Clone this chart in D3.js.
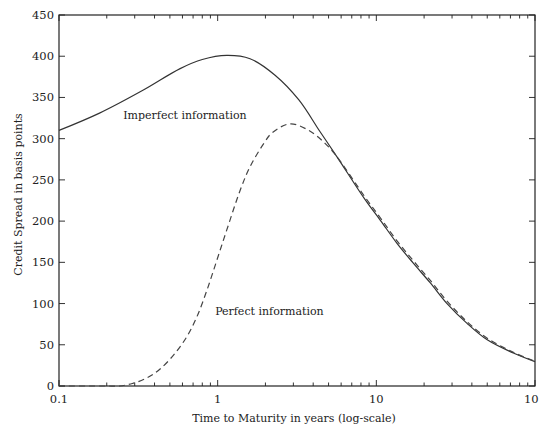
<!DOCTYPE html>
<html>
<head>
<meta charset="utf-8">
<script src="https://cdn.jsdelivr.net/npm/d3@7"></script>
<style>
body { margin: 0; background: #fff; }
svg { display: block; }
</style>
</head>
<body>
<div class="chart"></div>
<script>
// maturities (years) and spreads (bp)
var imperfectT = [0.1, 0.18, 0.34, 0.58, 0.8, 1.14, 1.6, 2.3, 3.25, 4.4, 5.65, 8.5, 10.6, 13.5, 17.1, 21.9, 27.9, 37.3, 50, 73, 100];
var imperfectV = [310, 331, 359, 385, 396, 401, 397, 377, 347, 309, 278, 226, 201, 173, 149, 125, 100, 76, 56, 40, 29.5];

var perfectT = [0.1, 0.2, 0.24, 0.29, 0.36, 0.43, 0.53, 0.64, 0.74, 0.855, 0.99, 1.14, 1.39, 1.6, 1.95, 2.2, 2.87, 3.83, 4.77, 5.5, 8.5, 10.6, 13.5, 17.1, 21.9, 27.9, 37.3, 50, 73, 100];
var perfectV = [0, 0, 0, 3, 10, 20, 38, 60, 84, 116, 153, 189, 238, 266, 294, 307, 318, 309, 294, 281, 229, 204, 176, 152, 128, 103, 78, 58, 41, 30];

var xTicks = [0.1, 1, 10, 100];
var xTickLabels = ["0.1", "1", "10", "100"];
var yTicks = [0, 50, 100, 150, 200, 250, 300, 350, 400, 450];

var labels = [
  {text: "Imperfect information", t: 0.254, v: 324},
  {text: "Perfect information", t: 0.964, v: 86}
];

var margin = {top: 15, right: 4, bottom: 42, left: 59},
    width = 539 - margin.left - margin.right,
    height = 428 - margin.top - margin.bottom;

var svg = d3.select(".chart").append("svg")
    .attr("width", 539)
    .attr("height", 428)
  .append("g")
    .attr("transform", "translate(" + margin.left + "," + margin.top + ")");

var font = "DejaVu Serif";

var x = d3.scaleLog().domain([0.1, 100]).range([0, width]);
var y = d3.scaleLinear().domain([0, 450]).range([height, 0]);

// minor ticks 2..9 of every decade
var minor = [];
[0.1, 1, 10].forEach(function(d) {
  for (var k = 2; k <= 9; k++) minor.push(d * k);
});

var ticks = svg.append("g").attr("stroke", "#333").attr("stroke-width", 1);

minor.forEach(function(d) {
  ticks.append("line").attr("x1", x(d)).attr("x2", x(d)).attr("y1", height).attr("y2", height - 3.5);
  ticks.append("line").attr("x1", x(d)).attr("x2", x(d)).attr("y1", 0).attr("y2", 3.5);
});
xTicks.forEach(function(d) {
  ticks.append("line").attr("x1", x(d)).attr("x2", x(d)).attr("y1", height).attr("y2", height - 6);
  ticks.append("line").attr("x1", x(d)).attr("x2", x(d)).attr("y1", 0).attr("y2", 6);
});
yTicks.forEach(function(d) {
  ticks.append("line").attr("x1", 0).attr("x2", 6).attr("y1", y(d)).attr("y2", y(d));
  ticks.append("line").attr("x1", width).attr("x2", width - 6).attr("y1", y(d)).attr("y2", y(d));
});

// frame
svg.append("rect")
    .attr("width", width)
    .attr("height", height)
    .attr("fill", "none")
    .attr("stroke", "#222")
    .attr("stroke-width", 1.2);

// tick labels
svg.selectAll(".ylab")
    .data(yTicks)
  .enter().append("text")
    .attr("x", -5)
    .attr("y", function(d) { return y(d); })
    .attr("dy", "0.35em")
    .attr("text-anchor", "end")
    .attr("fill", "#222")
    .style("font-family", font)
    .style("font-size", "11.5px")
    .text(function(d) { return d; });

svg.selectAll(".xlab")
    .data(xTicks)
  .enter().append("text")
    .attr("x", function(d) { return x(d); })
    .attr("y", height + 17)
    .attr("text-anchor", "middle")
    .attr("fill", "#222")
    .style("font-family", font)
    .style("font-size", "11.5px")
    .text(function(d, i) { return xTickLabels[i]; });

// axis titles
svg.append("text")
    .attr("x", width / 2 - 3)
    .attr("y", height + 36)
    .attr("text-anchor", "middle")
    .attr("fill", "#222")
    .style("font-family", font)
    .style("font-size", "11px")
    .text("Time to Maturity in years (log-scale)");

svg.append("text")
    .attr("transform", "rotate(-90)")
    .attr("x", -height / 2 + 6)
    .attr("y", -37)
    .attr("text-anchor", "middle")
    .attr("fill", "#222")
    .style("font-family", font)
    .style("font-size", "11px")
    .text("Credit Spread in basis points");

var line = d3.line()
    .x(function(d) { return x(d[0]); })
    .y(function(d) { return y(d[1]); })
    .curve(d3.curveCatmullRom.alpha(0.5));

svg.append("path")
    .datum(d3.zip(imperfectT, imperfectV))
    .attr("fill", "none")
    .attr("stroke", "#333")
    .attr("stroke-width", 1.2)
    .attr("d", line);

svg.append("path")
    .datum(d3.zip(perfectT, perfectV))
    .attr("fill", "none")
    .attr("stroke", "#444")
    .attr("stroke-width", 1.2)
    .attr("stroke-dasharray", "6,4")
    .attr("d", line);

svg.selectAll(".curvelab")
    .data(labels)
  .enter().append("text")
    .attr("x", function(d) { return x(d.t); })
    .attr("y", function(d) { return y(d.v); })
    .attr("fill", "#222")
    .style("font-family", font)
    .style("font-size", "11px")
    .text(function(d) { return d.text; });
</script>
</body>
</html>
